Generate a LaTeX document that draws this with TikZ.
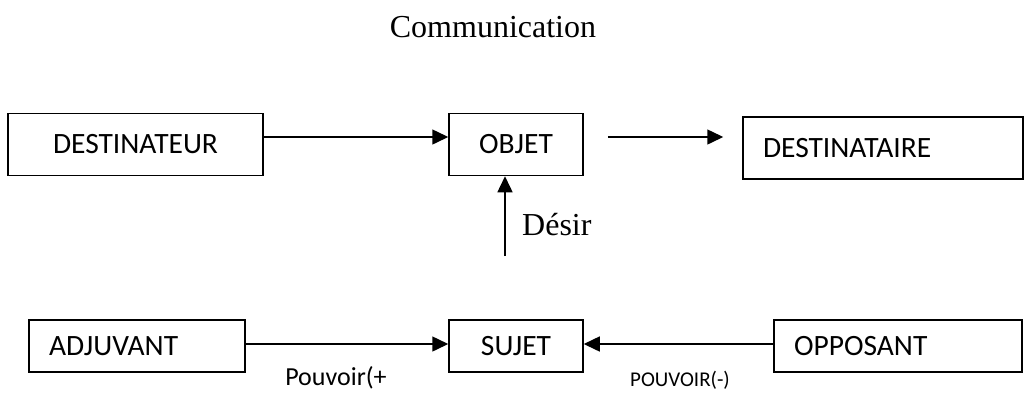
\documentclass[tikz,border=0pt]{standalone}
\usepackage{fontspec}
\setmainfont{Carlito}
\newfontfamily\serifrm{Liberation Serif}
\usetikzlibrary{arrows.meta}
\tikzset{
  box/.style={draw, line width=1.5pt, minimum height=62pt, inner sep=0pt, font=\fontsize{29.5}{33}\selectfont},
  lbox/.style={box, align=left, inner xsep=20pt},
  arr/.style={line width=1.5pt, -{Triangle[length=16pt,width=15pt]}},
  serif/.style={font=\serifrm\fontsize{32}{36}\selectfont, inner sep=0pt},
  lab/.style={inner sep=0pt, anchor=base}
}
\begin{document}
\begin{tikzpicture}[x=1pt,y=-1pt]
\useasboundingbox (0,0) rectangle (1033,392);
\node[serif] (comm) at (493,27) {Communication};
\node[box, minimum width=255pt] (dest) at (135.5,144.5) {DESTINATEUR};
\node[box, minimum width=134pt] (objet) at (516,144.5) {OBJET};
\node[lbox, text width=240pt, minimum height=62pt] (destaire) at (883,148) {DESTINATAIRE};
\node[lbox, text width=176pt, minimum height=52pt] (adj) at (137,346) {ADJUVANT};
\node[box, minimum width=134pt, minimum height=52pt] (sujet) at (516,346) {SUJET};
\node[lbox, text width=208pt, minimum height=52pt] (opp) at (898,346) {OPPOSANT};
\coordinate (desirstart) at (505,256);
\draw[arr] (dest.east |- 0,137) -- (objet.west |- 0,137);
\draw[arr, shorten <=24pt, shorten >=19pt] (objet.east |- 0,137) -- (destaire.west |- 0,137);
\draw[arr] (desirstart) -- (desirstart |- objet.south);
\node[serif, anchor=west] (desir) at (522,225) {Désir};
\draw[arr] (adj.east |- 0,344) -- (sujet.west |- 0,344);
\draw[arr] (opp.west |- 0,344) -- (sujet.east |- 0,344);
\node[lab, font=\fontsize{26}{30}\selectfont] (pplus) at (336,385) {Pouvoir(+};
\node[lab, font=\fontsize{21}{25}\selectfont] (pminus) at (680,386) {POUVOIR(-)};
\end{tikzpicture}
\end{document}
